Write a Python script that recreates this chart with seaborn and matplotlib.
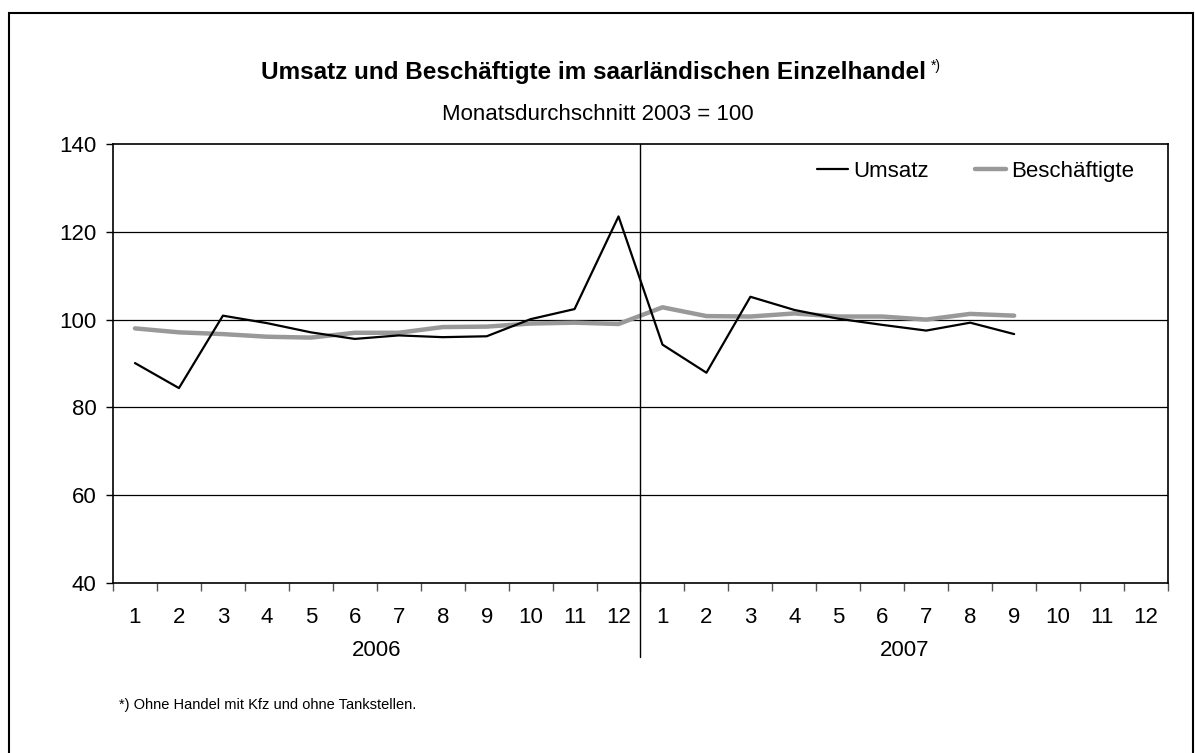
import numpy as np
import pandas as pd
import matplotlib
matplotlib.use('Agg')
import matplotlib.pyplot as plt
import matplotlib.transforms as mtransforms
from matplotlib.patches import Rectangle
import seaborn as sb

# data (index: Monatsdurchschnitt 2003 = 100)
years = ['2006', '2007']
months = [str(m) for m in range(1, 13)] * 2
umsatz = [90.1, 84.4, 100.9, 99.2, 97.1, 95.6, 96.4, 96.0, 96.2, 100.1, 102.4, 123.5,
          94.3, 87.9, 105.2, 102.2, 100.2, 98.8, 97.5, 99.3, 96.7]
beschaeftigte = [98.0, 97.1, 96.7, 96.1, 95.9, 97.0, 97.0, 98.3, 98.4, 99.1, 99.3, 99.0,
                 102.8, 100.8, 100.7, 101.4, 100.7, 100.7, 100.0, 101.3, 100.9]
y_ticks = [40, 60, 80, 100, 120, 140]

df = pd.DataFrame({'pos': np.arange(len(umsatz)),
                   'Umsatz': umsatz,
                   'Beschäftigte': beschaeftigte})

sb.set_style('white')
plt.rcParams['font.family'] = ['Liberation Sans', 'DejaVu Sans']
plt.rcParams['text.color'] = 'black'
plt.rcParams['xtick.color'] = 'black'
plt.rcParams['ytick.color'] = 'black'

fig = plt.figure(figsize=(11.95, 7.53), dpi=100)
ax = fig.add_axes([113/1195, 1-583/753, 1055/1195, 439/753])

sb.lineplot(data=df, x='pos', y='Umsatz', color='black', linewidth=1.6,
            label='Umsatz', ax=ax, zorder=4)
sb.lineplot(data=df, x='pos', y='Beschäftigte', color='#999999', linewidth=3.2,
            label='Beschäftigte', ax=ax, zorder=3)

ax.set_xlim(-0.5, 23.5)
ax.set_ylim(40, 140)
ax.set_xlabel('')
ax.set_ylabel('')

# y axis
ax.set_yticks(y_ticks)
ax.set_yticklabels([str(v) for v in y_ticks])
ax.tick_params(axis='y', which='major', length=5, width=1, color='black',
               direction='out', pad=7, labelsize=16, left=True)
for v in y_ticks[1:-1]:
    ax.axhline(v, color='black', linewidth=0.9, zorder=1)

# x axis: month labels centred, tick marks between months
ax.set_xticks(np.arange(24))
ax.set_xticklabels(months)
ax.set_xticks(np.arange(-0.5, 24, 1), minor=True)
ax.tick_params(axis='x', which='major', length=0, pad=17, labelsize=16)
ax.tick_params(axis='x', which='minor', length=6, width=1, color='#555555',
               direction='out', bottom=True)

for s in ax.spines.values():
    s.set_color('black')
    s.set_linewidth(1.2)

# year separator and year labels
trans = mtransforms.blended_transform_factory(ax.transData, ax.transAxes)
ax.plot([11.5, 11.5], [1, -0.168], color='black', linewidth=1, transform=trans,
        clip_on=False, zorder=5)
for i, yr in enumerate(years):
    ax.text(5.5 + 12*i, -0.153, yr, transform=trans, ha='center', va='center',
            fontsize=16)

leg = ax.legend(loc='upper right', ncol=2, frameon=False, fontsize=16,
                handlelength=1.4, handletextpad=0.2, columnspacing=2.1,
                borderaxespad=0, bbox_to_anchor=(0.976, 0.982))

# titles
title = fig.text(0.497, 1-73/753, 'Umsatz und Beschäftigte im saarländischen Einzelhandel',
                 ha='center', va='center', fontsize=17.5, fontweight='bold')
ax.annotate('*)', xy=(1, 1), xycoords=title, xytext=(3, 2),
            textcoords='offset points', ha='left', va='top', fontsize=10)
fig.text(0.5, 1-115/753, 'Monatsdurchschnitt 2003 = 100', ha='center', va='center',
         fontsize=16)
fig.text(119/1195, 1-705/753, '*) Ohne Handel mit Kfz und ohne Tankstellen.',
         ha='left', va='center', fontsize=10.5)

# frame around the whole figure
fig.patches.append(Rectangle((9/1195, -0.05), 1184/1195, 1 - 13/753 + 0.05,
                             transform=fig.transFigure, fill=False,
                             edgecolor='black', linewidth=1.5))

fig.savefig('out.png', dpi=100)
